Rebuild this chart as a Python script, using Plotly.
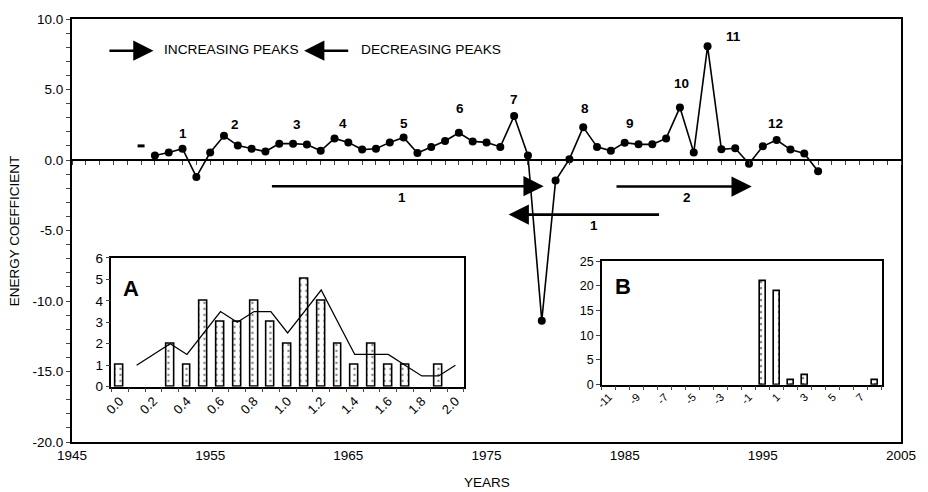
import plotly.graph_objects as go

# ---------------- data ----------------
years = list(range(1951, 2000))
energy = [0.32, 0.53, 0.80, -1.20, 0.53, 1.72, 1.02, 0.80, 0.60, 1.16,
          1.16, 1.10, 0.65, 1.53, 1.25, 0.74, 0.80, 1.25, 1.60, 0.50,
          0.93, 1.35, 1.93, 1.32, 1.25, 0.93, 3.12, 0.32, -11.40, -1.46,
          0.06, 2.33, 0.93, 0.65, 1.23, 1.11, 1.11, 1.53, 3.73, 0.53,
          8.06, 0.76, 0.83, -0.27, 0.97, 1.42, 0.74, 0.46, -0.79]
dash_year = [1950]
dash_value = [1.0]

peak_labels = ["1", "2", "3", "4", "5", "6", "7", "8", "9", "10", "11", "12"]
peak_label_x = [1953.0, 1956.8, 1961.3, 1964.6, 1969.0, 1973.1, 1977.0, 1982.1, 1985.4, 1989.1, 1992.9, 1995.9]
peak_label_y = [1.86, 2.49, 2.49, 2.56, 2.56, 3.68, 4.30, 3.68, 2.56, 5.44, 8.74, 2.56]

x_tick_vals = [1945, 1955, 1965, 1975, 1985, 1995, 2005]
y_tick_vals = [-20, -15, -10, -5, 0, 5, 10]
y_tick_text = ["-20.0", "-15.0", "-10.0", "-5.0", "0.0", "5.0", "10.0"]

# inset A
a_cats = [0.0, 0.1, 0.2, 0.3, 0.4, 0.5, 0.6, 0.7, 0.8, 0.9, 1.0,
          1.1, 1.2, 1.3, 1.4, 1.5, 1.6, 1.7, 1.8, 1.9, 2.0]
a_counts = [1, None, None, 2, 1, 4, 3, 3, 4, 3, 2, 5, 4, 2, 1, 2, 1, 1, None, 1, None]
a_avg = [None, 1.0, 1.5, 2.0, 1.5, 2.5, 3.5, 3.0, 3.5, 3.5, 2.5,
         3.5, 4.5, 3.0, 1.5, 1.5, 1.5, 1.0, 0.5, 0.5, 1.0]
a_tick_vals = [0.0, 0.2, 0.4, 0.6, 0.8, 1.0, 1.2, 1.4, 1.6, 1.8, 2.0]
a_tick_text = ["0.0", "0.2", "0.4", "0.6", "0.8", "1.0", "1.2", "1.4", "1.6", "1.8", "2.0"]

# inset B
b_cats = [-11, -10, -9, -8, -7, -6, -5, -4, -3, -2, -1, 0, 1, 2, 3, 4, 5, 6, 7, 8]
b_counts = [None, None, None, None, None, None, None, None, None, None, None,
            21, 19, 1, 2, None, None, None, None, 1]
b_tick_vals = [-11, -9, -7, -5, -3, -1, 1, 3, 5, 7]
b_tick_text = ["-11", "-9", "-7", "-5", "-3", "-1", "1", "3", "5", "7"]

# ---------------- figure ----------------
FONT = "Liberation Sans, Arial, sans-serif"
fig = go.Figure()

fig.add_trace(go.Scatter(x=years, y=energy, mode="lines+markers",
                         line=dict(color="black", width=1.6),
                         marker=dict(color="black", size=8),
                         showlegend=False, xaxis="x", yaxis="y"))
fig.add_trace(go.Scatter(x=dash_year, y=dash_value, mode="markers",
                         marker=dict(symbol="line-ew", size=5,
                                     line=dict(color="black", width=3)),
                         showlegend=False, xaxis="x", yaxis="y"))
# dummy trace to create zero-line axis
fig.add_trace(go.Scatter(x=[1945], y=[None], mode="markers", showlegend=False,
                         xaxis="x2", yaxis="y", hoverinfo="skip"))

pattern = dict(shape=".", fgcolor="black", bgcolor="white", size=6, solidity=0.12)
fig.add_trace(go.Bar(x=a_cats, y=a_counts, width=0.047,
                     marker=dict(color="white", pattern=pattern,
                                 line=dict(color="black", width=1.6)),
                     showlegend=False, xaxis="x3", yaxis="y3"))
fig.add_trace(go.Scatter(x=a_cats, y=a_avg, mode="lines",
                         line=dict(color="black", width=1.3),
                         showlegend=False, xaxis="x3", yaxis="y3"))
fig.add_trace(go.Bar(x=b_cats, y=b_counts, width=0.45,
                     marker=dict(color="white", pattern=pattern,
                                 line=dict(color="black", width=1.6)),
                     showlegend=False, xaxis="x4", yaxis="y4"))

axis_common = dict(showgrid=False, zeroline=False, showline=True,
                   linecolor="black", mirror=True)

fig.update_layout(
    width=928, height=492,
    margin=dict(l=72, r=16, t=14, b=50),
    paper_bgcolor="white", plot_bgcolor="white",
    font=dict(family=FONT, size=13, color="black"),
    bargap=0,
    xaxis=dict(domain=[0, 1], range=[1945, 2005], tickvals=x_tick_vals,
               ticks="", linewidth=2, tickfont=dict(size=13.5), **axis_common),
    yaxis=dict(domain=[0, 1], range=[-20, 10], tickvals=y_tick_vals,
               ticktext=y_tick_text, ticks="outside", ticklen=4, tickwidth=1,
               minor=dict(dtick=1, tick0=0, ticks="outside", ticklen=4, tickwidth=1),
               linewidth=2, tickfont=dict(size=13.5), **axis_common),
    xaxis2=dict(overlaying="x", anchor="free", position=2 / 3,
                range=[1945, 2005], tick0=1945, dtick=1, ticks="outside",
                ticklen=4, tickwidth=1, showticklabels=False, showline=True,
                linecolor="black", linewidth=1.5, showgrid=False, zeroline=False),
    xaxis3=dict(domain=[0.0476, 0.4726], anchor="y3", range=[-0.05, 2.05],
                tickmode="array", tickvals=a_tick_vals, ticktext=a_tick_text,
                tickangle=-45, ticks="",
                minor=dict(tick0=-0.05, dtick=0.1, ticks="outside",
                           ticklen=4, tickwidth=1),
                linewidth=1.5, tickfont=dict(size=13), **axis_common),
    yaxis3=dict(domain=[0.1308, 0.4353], anchor="x3", range=[0, 6], dtick=1,
                ticks="outside", ticklen=4, linewidth=1.5,
                tickfont=dict(size=13.5), **axis_common),
    xaxis4=dict(domain=[0.6393, 0.977], anchor="y4", range=[-11.5, 8.5],
                tickmode="array", tickvals=b_tick_vals, ticktext=b_tick_text,
                tickangle=-45, ticks="",
                minor=dict(tick0=-11.5, dtick=1, ticks="outside",
                           ticklen=4, tickwidth=1),
                linewidth=1.5, tickfont=dict(size=11), **axis_common),
    yaxis4=dict(domain=[0.1355, 0.4276], anchor="x4", range=[0, 25], dtick=5,
                ticks="outside", ticklen=4, linewidth=1.5,
                tickfont=dict(size=12.5), **axis_common),
)

ann = []
for t, x, y in zip(peak_labels, peak_label_x, peak_label_y):
    ann.append(dict(text="<b>%s</b>" % t, x=x, y=y, xref="x", yref="y",
                    showarrow=False, font=dict(size=13.5)))

# arrows: (tail_x, tip_x, y)
arrows = [(1959.36, 1979.14, -1.86), (1987.6, 1976.6, -3.87),
          (1984.3, 1994.2, -1.88), (1947.6, 1950.9, 7.75), (1965.1, 1961.8, 7.75)]
for tail, tip, y in arrows:
    ann.append(dict(text="", x=tip, y=y, ax=tail, ay=y, xref="x", yref="y",
                    axref="x", ayref="y", showarrow=True, arrowhead=2,
                    arrowwidth=2.7, arrowsize=1.5, arrowcolor="black", standoff=0))
for t, x, y in [("1", 1968.9, -2.63), ("1", 1982.8, -4.65), ("2", 1989.5, -2.63)]:
    ann.append(dict(text="<b>%s</b>" % t, x=x, y=y, xref="x", yref="y",
                    showarrow=False, font=dict(size=13.5)))
ann.append(dict(text="INCREASING PEAKS", x=1951.5, y=7.82, xref="x", yref="y",
                xanchor="left", showarrow=False, font=dict(size=13.7)))
ann.append(dict(text="DECREASING PEAKS", x=1965.8, y=7.82, xref="x", yref="y",
                xanchor="left", showarrow=False, font=dict(size=13.7)))
ann.append(dict(text="<b>A</b>", x=0.027, y=0.76, xref="x3 domain", yref="y3 domain",
                xanchor="left", yanchor="middle", showarrow=False, font=dict(size=22)))
ann.append(dict(text="<b>B</b>", x=0.039, y=0.796, xref="x4 domain", yref="y4 domain",
                xanchor="left", yanchor="middle", showarrow=False, font=dict(size=22)))
ann.append(dict(text="ENERGY COEFFICIENT", textangle=-90, x=(14 - 72) / 840, y=0.5,
                xref="paper", yref="paper", xanchor="center", yanchor="middle",
                showarrow=False, font=dict(size=13.5)))
ann.append(dict(text="YEARS", x=0.5, y=(442 - 483) / 428, xref="paper", yref="paper",
                xanchor="center", yanchor="middle", showarrow=False, font=dict(size=13.5)))
fig.update_layout(annotations=ann)

fig.write_html("out.html")
